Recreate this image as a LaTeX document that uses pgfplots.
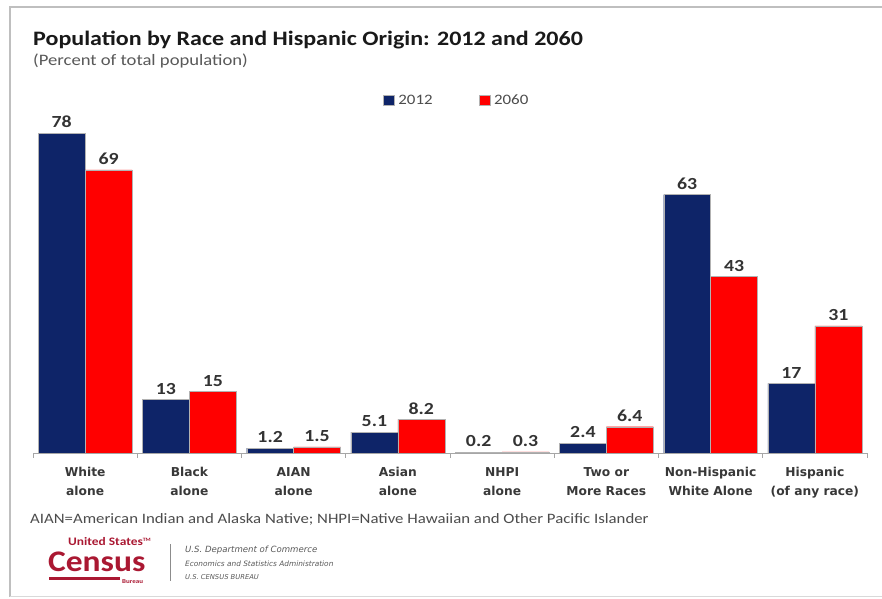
\documentclass[border=0pt]{standalone}
\usepackage{pgfplots}
\pgfplotsset{compat=1.18}
\usepackage{fontspec}
\setmainfont{Carlito}[FakeStretch=1.17]
\newfontfamily\dvs{DejaVu Sans}
\definecolor{navy}{RGB}{14,36,104}
\definecolor{cred}{RGB}{255,0,0}
\definecolor{census}{RGB}{170,24,50}
\begin{document}
\begin{tikzpicture}
\path[use as bounding box] (0,0) rectangle (882bp,599bp);
\fill[white] (0,0) rectangle (882bp,599bp);
\draw[black!25, line width=1.2bp] (10bp,2bp) -- (10bp,592bp) -- (890bp,592bp);
\draw[black!15, line width=1bp] (10bp,2bp) -- (890bp,2bp);
\node[anchor=base west, font=\bfseries\fontsize{20.6}{24}\selectfont, text=black!90, inner sep=0] at (33bp,553bp) {Population by Race and Hispanic Origin: 2012 and 2060};
\node[anchor=base west, font=\fontsize{16}{18}\selectfont, text=black!65, inner sep=0] at (33bp,533bp) {(Percent of total population)};
\begin{axis}[
 at={(33bp,146bp)}, anchor=south west,
 scale only axis, width=834bp, height=348.7bp,
 xmin=-0.5, xmax=7.5, ymin=0, ymax=85,
 ybar=0pt, bar width=0.45,
 axis x line*=bottom, axis y line=none,
 axis line style={black!35, line width=0.8bp},
 xtick={0,...,7},
 xticklabels={{White\\alone},{Black\\alone},{AIAN\\alone},{Asian\\alone},{NHPI\\alone},{Two or\\More Races},{Non-Hispanic\\White Alone},{Hispanic\\(of any race)}},
 major tick length=0,
 xticklabel style={font=\dvs\bfseries\fontsize{12.3}{19}\selectfont, text=black!78, align=center, yshift=-11bp},
 extra x ticks={-0.5,0.5,...,7.5}, extra x tick labels={},
 extra x tick style={major tick length=5bp, tick align=outside, tick style={black!35, line width=0.8bp}},
 nodes near coords={\pgfmathprintnumber[assume math mode=true]{\pgfplotspointmeta}},
 nodes near coords style={font=\bfseries\fontsize{17}{20}\selectfont, text=black!80, inner sep=5bp},
 legend columns=2,
 legend style={at={(0.508,1.012)}, anchor=center, draw=none, fill=none, font=\fontsize{14.5}{16}\selectfont, text=black!70, /tikz/every odd column/.append style={column sep=2bp}, /tikz/every even column/.append style={column sep=44bp}},
 legend image code/.code={\fill[#1] (0bp,-5bp) rectangle (11bp,5bp);},
]
\addplot[fill=navy, draw=black!30, line width=0.4bp] coordinates {(0,78) (1,13) (2,1.2) (3,5.1) (4,0.2) (5,2.4) (6,63) (7,17)};
\addplot[fill=cred, draw=black!30, line width=0.4bp] coordinates {(0,69) (1,15) (2,1.5) (3,8.2) (4,0.3) (5,6.4) (6,43) (7,31)};
\legend{2012,2060}
\end{axis}
\node[anchor=base west, font=\fontsize{14.4}{16}\selectfont, text=black!70, inner sep=0] at (30bp,75bp) {AIAN=American Indian and Alaska Native; NHPI=Native Hawaiian and Other Pacific Islander};
\node[anchor=base west, font=\bfseries\fontsize{11.5}{13}\selectfont, text=census, inner sep=0] at (68bp,53bp) {United States\textsuperscript{\tiny TM}};
\node[anchor=base west, font=\bfseries\addfontfeature{FakeStretch=1.12}\fontsize{30}{34}\selectfont, text=census, inner sep=0] at (48bp,28bp) {Census};
\fill[census] (49bp,19bp) rectangle (120bp,22bp);
\node[anchor=base west, font=\bfseries\fontsize{6}{7}\selectfont, text=census, inner sep=0] at (122bp,16bp) {Bureau};
\draw[black!45, line width=0.8bp] (170bp,18bp) -- (170bp,55bp);
\node[anchor=base west, font=\dvs\itshape\fontsize{8.6}{9}\selectfont, text=black!65, inner sep=0] at (185bp,46bp) {U.S. Department of Commerce};
\node[anchor=base west, font=\dvs\itshape\fontsize{7.4}{8}\selectfont, text=black!65, inner sep=0] at (185bp,33bp) {Economics and Statistics Administration};
\node[anchor=base west, font=\dvs\itshape\fontsize{6.8}{7}\selectfont, text=black!65, inner sep=0] at (185bp,20bp) {U.S. CENSUS BUREAU};
\end{tikzpicture}
\end{document}
